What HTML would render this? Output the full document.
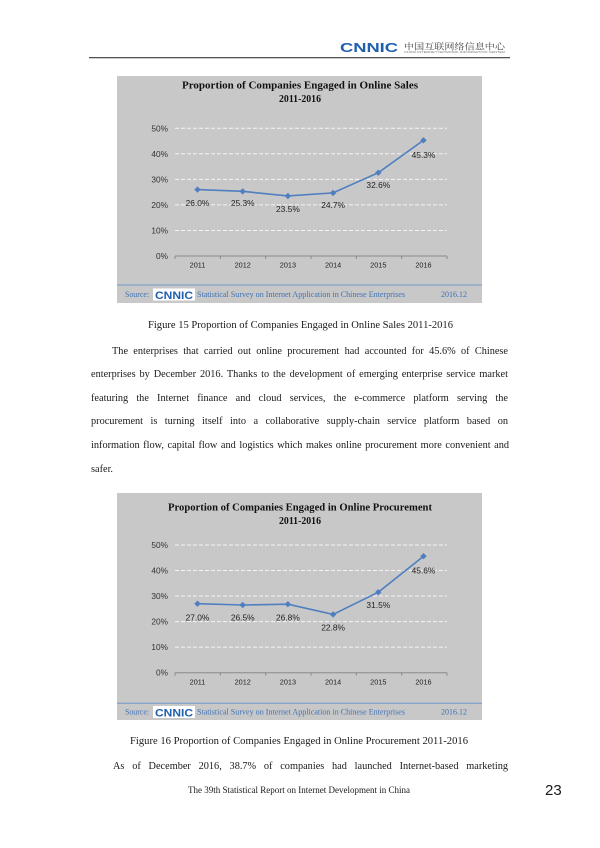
<!DOCTYPE html>
<html>
<head>
<meta charset="utf-8">
<style>
  html,body{margin:0;padding:0;background:#fff;}
  body{width:600px;height:848px;position:relative;overflow:hidden;}
  svg{position:absolute;left:0;top:0;}
  .ln{position:absolute;font-family:"Liberation Serif",serif;font-size:10.3px;line-height:14px;color:#1a1a1a;text-align:justify;text-align-last:justify;white-space:normal;}
  .ln.l{text-align:left;text-align-last:left;}
</style>
</head>
<body>
<svg width="600" height="848" viewBox="0 0 600 848" xmlns="http://www.w3.org/2000/svg">
  <!-- Header -->
  <line x1="89" y1="57.7" x2="510" y2="57.7" stroke="#3a3a3a" stroke-width="1.2"/>
  <text x="340" y="52" font-family="Liberation Sans, sans-serif" font-weight="bold" font-size="12.5" fill="#1f5fae" textLength="58" lengthAdjust="spacingAndGlyphs">CNNIC</text>
  <text x="404" y="49.3" font-family="Liberation Serif, 'Noto Serif CJK SC', serif" font-size="8.5" fill="#444" textLength="101" lengthAdjust="spacingAndGlyphs">中国互联网络信息中心</text>
  <text x="404" y="53.2" font-family="Liberation Sans, sans-serif" font-size="2.8" fill="#777" textLength="101" lengthAdjust="spacingAndGlyphs">CHINA INTERNET NETWORK INFORMATION CENTER</text>

  <!-- ================= Chart 1 ================= -->
  <rect x="117" y="76" width="365" height="227" fill="#c8c8c8"/>
  <text x="300" y="88.6" text-anchor="middle" font-family="Liberation Serif, serif" font-weight="bold" font-size="10.8" fill="#111" textLength="236" lengthAdjust="spacingAndGlyphs">Proportion of Companies Engaged in Online Sales</text>
  <text x="300" y="102" text-anchor="middle" font-family="Liberation Serif, serif" font-weight="bold" font-size="10.8" fill="#111" textLength="42" lengthAdjust="spacingAndGlyphs">2011-2016</text>
  <g stroke="#f4f4f4" stroke-width="1" stroke-dasharray="4,2">
    <line x1="175" y1="128.25" x2="447" y2="128.25"/>
    <line x1="175" y1="153.8" x2="447" y2="153.8"/>
    <line x1="175" y1="179.35" x2="447" y2="179.35"/>
    <line x1="175" y1="204.9" x2="447" y2="204.9"/>
    <line x1="175" y1="230.45" x2="447" y2="230.45"/>
  </g>
  <line x1="175" y1="256" x2="447" y2="256" stroke="#8a8a8a" stroke-width="1"/>
  <g stroke="#8a8a8a" stroke-width="1">
    <line x1="175" y1="256" x2="175" y2="259"/>
    <line x1="220.3" y1="256" x2="220.3" y2="259"/>
    <line x1="265.7" y1="256" x2="265.7" y2="259"/>
    <line x1="311" y1="256" x2="311" y2="259"/>
    <line x1="356.3" y1="256" x2="356.3" y2="259"/>
    <line x1="401.7" y1="256" x2="401.7" y2="259"/>
    <line x1="447" y1="256" x2="447" y2="259"/>
  </g>
  <g font-family="Liberation Sans, sans-serif" font-size="8.3" fill="#333" text-anchor="end">
    <text x="168" y="259">0%</text>
    <text x="168" y="233.5">10%</text>
    <text x="168" y="208">20%</text>
    <text x="168" y="182.4">30%</text>
    <text x="168" y="156.8">40%</text>
    <text x="168" y="131.3">50%</text>
  </g>
  <g font-family="Liberation Sans, sans-serif" font-size="7.3" fill="#222" text-anchor="middle">
    <text x="197.5" y="267.7">2011</text>
    <text x="242.7" y="267.7">2012</text>
    <text x="287.9" y="267.7">2013</text>
    <text x="333.1" y="267.7">2014</text>
    <text x="378.3" y="267.7">2015</text>
    <text x="423.5" y="267.7">2016</text>
  </g>
  <polyline points="197.5,189.57 242.7,191.36 287.9,195.96 333.1,192.89 378.3,172.71 423.5,140.26" fill="none" stroke="#4f7fc0" stroke-width="1.6"/>
  <g fill="#4f7fc0">
    <path d="M197.5,186.4 L200.7,189.57 L197.5,192.8 L194.3,189.57 Z"/>
    <path d="M242.7,188.2 L245.9,191.36 L242.7,194.6 L239.5,191.36 Z"/>
    <path d="M287.9,192.8 L291.1,195.96 L287.9,199.2 L284.7,195.96 Z"/>
    <path d="M333.1,189.7 L336.3,192.89 L333.1,196.1 L329.9,192.89 Z"/>
    <path d="M378.3,169.5 L381.5,172.71 L378.3,175.9 L375.1,172.71 Z"/>
    <path d="M423.5,137.1 L426.7,140.26 L423.5,143.5 L420.3,140.26 Z"/>
  </g>
  <g font-family="Liberation Sans, sans-serif" font-size="8.4" fill="#222" text-anchor="middle">
    <text x="197.5" y="206">26.0%</text>
    <text x="242.7" y="206">25.3%</text>
    <text x="287.9" y="212">23.5%</text>
    <text x="333.1" y="208">24.7%</text>
    <text x="378.3" y="188">32.6%</text>
    <text x="423.5" y="158">45.3%</text>
  </g>
  <line x1="117" y1="285" x2="482" y2="285" stroke="#6f97cb" stroke-width="1"/>
  <text x="125" y="297" font-family="Liberation Serif, serif" font-size="8" fill="#3f72b5" textLength="24" lengthAdjust="spacingAndGlyphs">Source:</text>
  <rect x="153" y="288.5" width="42" height="12" fill="#fff"/>
  <text x="155" y="299" font-family="Liberation Sans, sans-serif" font-weight="bold" font-size="11" fill="#1f5fae" textLength="38" lengthAdjust="spacingAndGlyphs">CNNIC</text>
  <text x="197" y="297" font-family="Liberation Serif, serif" font-size="8" fill="#3f72b5" textLength="208" lengthAdjust="spacingAndGlyphs">Statistical Survey on Internet Application in Chinese Enterprises</text>
  <text x="441" y="297" font-family="Liberation Serif, serif" font-size="8" fill="#3f72b5" textLength="26" lengthAdjust="spacingAndGlyphs">2016.12</text>

  <!-- Caption 15 -->
  <text x="300.5" y="328" text-anchor="middle" font-family="Liberation Serif, serif" font-size="10.5" fill="#1a1a1a" textLength="305" lengthAdjust="spacingAndGlyphs">Figure 15 Proportion of Companies Engaged in Online Sales 2011-2016</text>

  <!-- ================= Chart 2 ================= -->
  <rect x="117" y="493" width="365" height="227" fill="#c8c8c8"/>
  <text x="300" y="510.5" text-anchor="middle" font-family="Liberation Serif, serif" font-weight="bold" font-size="10.8" fill="#111" textLength="264" lengthAdjust="spacingAndGlyphs">Proportion of Companies Engaged in Online Procurement</text>
  <text x="300" y="523.8" text-anchor="middle" font-family="Liberation Serif, serif" font-weight="bold" font-size="10.8" fill="#111" textLength="42" lengthAdjust="spacingAndGlyphs">2011-2016</text>
  <g stroke="#f4f4f4" stroke-width="1" stroke-dasharray="4,2">
    <line x1="175" y1="544.95" x2="447" y2="544.95"/>
    <line x1="175" y1="570.5" x2="447" y2="570.5"/>
    <line x1="175" y1="596.05" x2="447" y2="596.05"/>
    <line x1="175" y1="621.6" x2="447" y2="621.6"/>
    <line x1="175" y1="647.15" x2="447" y2="647.15"/>
  </g>
  <line x1="175" y1="672.7" x2="447" y2="672.7" stroke="#8a8a8a" stroke-width="1"/>
  <g stroke="#8a8a8a" stroke-width="1">
    <line x1="175" y1="672.7" x2="175" y2="675.7"/>
    <line x1="220.3" y1="672.7" x2="220.3" y2="675.7"/>
    <line x1="265.7" y1="672.7" x2="265.7" y2="675.7"/>
    <line x1="311" y1="672.7" x2="311" y2="675.7"/>
    <line x1="356.3" y1="672.7" x2="356.3" y2="675.7"/>
    <line x1="401.7" y1="672.7" x2="401.7" y2="675.7"/>
    <line x1="447" y1="672.7" x2="447" y2="675.7"/>
  </g>
  <g font-family="Liberation Sans, sans-serif" font-size="8.3" fill="#333" text-anchor="end">
    <text x="168" y="675.7">0%</text>
    <text x="168" y="650.2">10%</text>
    <text x="168" y="624.6">20%</text>
    <text x="168" y="599">30%</text>
    <text x="168" y="573.5">40%</text>
    <text x="168" y="548">50%</text>
  </g>
  <g font-family="Liberation Sans, sans-serif" font-size="7.3" fill="#222" text-anchor="middle">
    <text x="197.5" y="684.4">2011</text>
    <text x="242.7" y="684.4">2012</text>
    <text x="287.9" y="684.4">2013</text>
    <text x="333.1" y="684.4">2014</text>
    <text x="378.3" y="684.4">2015</text>
    <text x="423.5" y="684.4">2016</text>
  </g>
  <polyline points="197.5,603.71 242.7,604.99 287.9,604.23 333.1,614.45 378.3,592.22 423.5,556.19" fill="none" stroke="#4f7fc0" stroke-width="1.6"/>
  <g fill="#4f7fc0">
    <path d="M197.5,600.5 L200.7,603.71 L197.5,606.9 L194.3,603.71 Z"/>
    <path d="M242.7,601.8 L245.9,604.99 L242.7,608.2 L239.5,604.99 Z"/>
    <path d="M287.9,601 L291.1,604.23 L287.9,607.4 L284.7,604.23 Z"/>
    <path d="M333.1,611.2 L336.3,614.45 L333.1,617.6 L329.9,614.45 Z"/>
    <path d="M378.3,589 L381.5,592.22 L378.3,595.4 L375.1,592.22 Z"/>
    <path d="M423.5,553 L426.7,556.19 L423.5,559.4 L420.3,556.19 Z"/>
  </g>
  <g font-family="Liberation Sans, sans-serif" font-size="8.4" fill="#222" text-anchor="middle">
    <text x="197.5" y="620.7">27.0%</text>
    <text x="242.7" y="620.7">26.5%</text>
    <text x="287.9" y="620.7">26.8%</text>
    <text x="333.1" y="630.3">22.8%</text>
    <text x="378.3" y="608">31.5%</text>
    <text x="423.5" y="573.7">45.6%</text>
  </g>
  <line x1="117" y1="703.3" x2="482" y2="703.3" stroke="#6f97cb" stroke-width="1"/>
  <text x="125" y="714.5" font-family="Liberation Serif, serif" font-size="8" fill="#3f72b5" textLength="24" lengthAdjust="spacingAndGlyphs">Source:</text>
  <rect x="153" y="706" width="42" height="12" fill="#fff"/>
  <text x="155" y="716.5" font-family="Liberation Sans, sans-serif" font-weight="bold" font-size="11" fill="#1f5fae" textLength="38" lengthAdjust="spacingAndGlyphs">CNNIC</text>
  <text x="197" y="714.5" font-family="Liberation Serif, serif" font-size="8" fill="#3f72b5" textLength="208" lengthAdjust="spacingAndGlyphs">Statistical Survey on Internet Application in Chinese Enterprises</text>
  <text x="441" y="714.5" font-family="Liberation Serif, serif" font-size="8" fill="#3f72b5" textLength="26" lengthAdjust="spacingAndGlyphs">2016.12</text>

  <!-- Caption 16 -->
  <text x="299" y="744" text-anchor="middle" font-family="Liberation Serif, serif" font-size="10.5" fill="#1a1a1a" textLength="338" lengthAdjust="spacingAndGlyphs">Figure 16 Proportion of Companies Engaged in Online Procurement 2011-2016</text>

  <!-- Footer -->
  <text x="299" y="793" text-anchor="middle" font-family="Liberation Serif, serif" font-size="9" fill="#1a1a1a" textLength="222" lengthAdjust="spacingAndGlyphs">The 39th Statistical Report on Internet Development in China</text>
  <text x="545" y="795" font-family="Liberation Sans, sans-serif" font-size="15" fill="#1a1a1a">23</text>
</svg>

<div class="ln" style="left:112px;top:345.2px;width:396px;">The enterprises that carried out online procurement had accounted for 45.6% of Chinese</div>
<div class="ln" style="left:91px;top:367.5px;width:417px;">enterprises by December 2016. Thanks to the development of emerging enterprise service market</div>
<div class="ln" style="left:91px;top:391.8px;width:417px;">featuring the Internet finance and cloud services, the e-commerce platform serving the</div>
<div class="ln" style="left:91px;top:415.2px;width:417px;">procurement is turning itself into a collaborative supply-chain service platform based on</div>
<div class="ln" style="left:91px;top:438.5px;width:418px;">information flow, capital flow and logistics which makes online procurement more convenient and</div>
<div class="ln l" style="left:91px;top:462.5px;width:417px;">safer.</div>

<div class="ln" style="left:113px;top:760px;width:395px;">As of December 2016, 38.7% of companies had launched Internet-based marketing</div>
</body>
</html>
